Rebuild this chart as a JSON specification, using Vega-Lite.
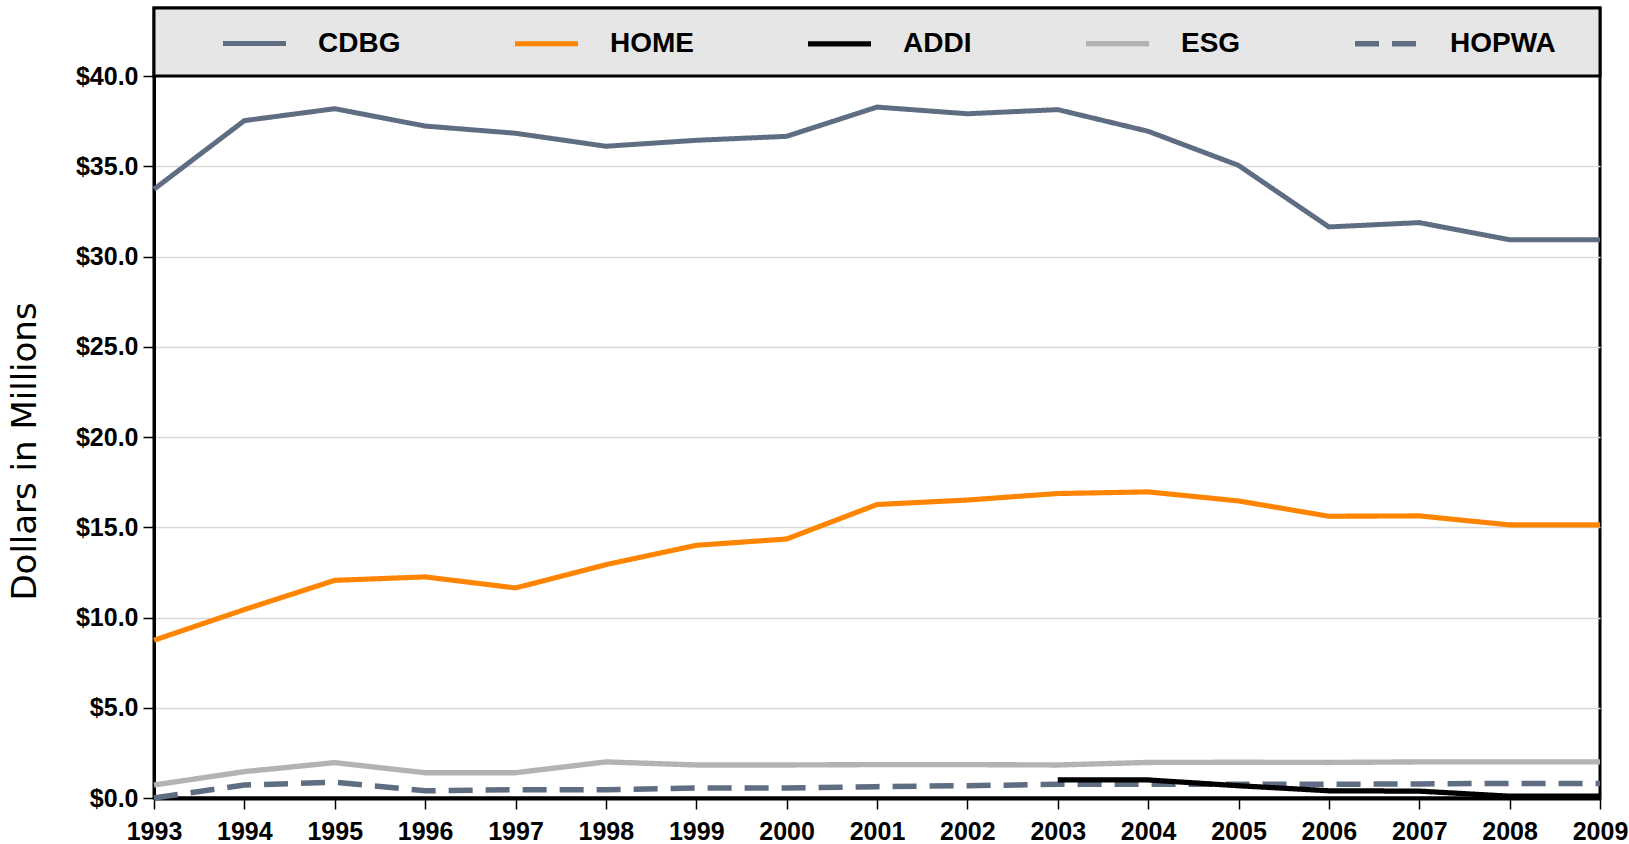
{
  "$schema": "https://vega.github.io/schema/vega-lite/v6.json",
  "autosize": {"type": "none"},
  "width": 1446,
  "height": 790,
  "padding": {"left": 154, "top": 8, "right": 29, "bottom": 46},
  "background": "white",
  "config": {
    "view": {"stroke": "black", "strokeWidth": 3},
    "font": "Liberation Sans"
  },
  "datasets": {
    "funding": [
      {"year": 1993, "series": "CDBG", "value": 33.73},
      {"year": 1994, "series": "CDBG", "value": 37.53},
      {"year": 1995, "series": "CDBG", "value": 38.19},
      {"year": 1996, "series": "CDBG", "value": 37.23},
      {"year": 1997, "series": "CDBG", "value": 36.83},
      {"year": 1998, "series": "CDBG", "value": 36.11},
      {"year": 1999, "series": "CDBG", "value": 36.44},
      {"year": 2000, "series": "CDBG", "value": 36.66},
      {"year": 2001, "series": "CDBG", "value": 38.28},
      {"year": 2002, "series": "CDBG", "value": 37.91},
      {"year": 2003, "series": "CDBG", "value": 38.14},
      {"year": 2004, "series": "CDBG", "value": 36.94},
      {"year": 2005, "series": "CDBG", "value": 35.05},
      {"year": 2006, "series": "CDBG", "value": 31.64},
      {"year": 2007, "series": "CDBG", "value": 31.88},
      {"year": 2008, "series": "CDBG", "value": 30.93},
      {"year": 2009, "series": "CDBG", "value": 30.93},
      {"year": 1993, "series": "HOME", "value": 8.74},
      {"year": 1994, "series": "HOME", "value": 10.44},
      {"year": 1995, "series": "HOME", "value": 12.06},
      {"year": 1996, "series": "HOME", "value": 12.25},
      {"year": 1997, "series": "HOME", "value": 11.64},
      {"year": 1998, "series": "HOME", "value": 12.93},
      {"year": 1999, "series": "HOME", "value": 14.0},
      {"year": 2000, "series": "HOME", "value": 14.35},
      {"year": 2001, "series": "HOME", "value": 16.26},
      {"year": 2002, "series": "HOME", "value": 16.51},
      {"year": 2003, "series": "HOME", "value": 16.87},
      {"year": 2004, "series": "HOME", "value": 16.96},
      {"year": 2005, "series": "HOME", "value": 16.46},
      {"year": 2006, "series": "HOME", "value": 15.61},
      {"year": 2007, "series": "HOME", "value": 15.63},
      {"year": 2008, "series": "HOME", "value": 15.13},
      {"year": 2009, "series": "HOME", "value": 15.13},
      {"year": 1993, "series": "ESG", "value": 0.72},
      {"year": 1994, "series": "ESG", "value": 1.46},
      {"year": 1995, "series": "ESG", "value": 1.96},
      {"year": 1996, "series": "ESG", "value": 1.4},
      {"year": 1997, "series": "ESG", "value": 1.4},
      {"year": 1998, "series": "ESG", "value": 2.0},
      {"year": 1999, "series": "ESG", "value": 1.83},
      {"year": 2000, "series": "ESG", "value": 1.83},
      {"year": 2001, "series": "ESG", "value": 1.85},
      {"year": 2002, "series": "ESG", "value": 1.85},
      {"year": 2003, "series": "ESG", "value": 1.83},
      {"year": 2004, "series": "ESG", "value": 1.97},
      {"year": 2005, "series": "ESG", "value": 1.98},
      {"year": 2006, "series": "ESG", "value": 1.97},
      {"year": 2007, "series": "ESG", "value": 2.0},
      {"year": 2008, "series": "ESG", "value": 2.0},
      {"year": 2009, "series": "ESG", "value": 2.0},
      {"year": 1993, "series": "HOPWA", "value": 0.0},
      {"year": 1994, "series": "HOPWA", "value": 0.72},
      {"year": 1995, "series": "HOPWA", "value": 0.87},
      {"year": 1996, "series": "HOPWA", "value": 0.4},
      {"year": 1997, "series": "HOPWA", "value": 0.46},
      {"year": 1998, "series": "HOPWA", "value": 0.46},
      {"year": 1999, "series": "HOPWA", "value": 0.55},
      {"year": 2000, "series": "HOPWA", "value": 0.55},
      {"year": 2001, "series": "HOPWA", "value": 0.63},
      {"year": 2002, "series": "HOPWA", "value": 0.68},
      {"year": 2003, "series": "HOPWA", "value": 0.76},
      {"year": 2004, "series": "HOPWA", "value": 0.76},
      {"year": 2005, "series": "HOPWA", "value": 0.76},
      {"year": 2006, "series": "HOPWA", "value": 0.76},
      {"year": 2007, "series": "HOPWA", "value": 0.78},
      {"year": 2008, "series": "HOPWA", "value": 0.81},
      {"year": 2009, "series": "HOPWA", "value": 0.81},
      {"year": 2003, "series": "ADDI", "value": 1.0},
      {"year": 2004, "series": "ADDI", "value": 1.0},
      {"year": 2005, "series": "ADDI", "value": 0.68},
      {"year": 2006, "series": "ADDI", "value": 0.4},
      {"year": 2007, "series": "ADDI", "value": 0.38},
      {"year": 2008, "series": "ADDI", "value": 0.1},
      {"year": 2009, "series": "ADDI", "value": 0.1}
    ],
    "legendbox": [
      {"from": 1993, "to": 2009, "bottom": 40, "top": 43.77}
    ]
  },
  "layer": [
    {
      "data": {"name": "legendbox"},
      "mark": {"type": "rect", "fill": "#e6e6e6", "stroke": "black", "strokeWidth": 3},
      "encoding": {
        "x": {"field": "from", "type": "quantitative"},
        "x2": {"field": "to"},
        "y": {"field": "bottom", "type": "quantitative"},
        "y2": {"field": "top"}
      }
    },
    {
      "data": {"name": "funding"},
      "mark": {"type": "line", "strokeJoin": "miter", "strokeCap": "butt", "clip": false},
      "encoding": {
        "x": {
          "field": "year",
          "type": "quantitative",
          "scale": {"domain": [1993, 2009], "nice": false, "zero": false},
          "axis": {
            "values": [1993, 1994, 1995, 1996, 1997, 1998, 1999, 2000, 2001, 2002, 2003, 2004, 2005, 2006, 2007, 2008, 2009],
            "format": "d",
            "title": null,
            "grid": false,
            "domainColor": "black",
            "domainWidth": 4,
            "tickColor": "black",
            "tickWidth": 1.5,
            "tickSize": 11,
            "labelFont": "Liberation Sans",
            "labelFontWeight": "bold",
            "labelFontSize": 25,
            "labelColor": "black",
            "labelPadding": 10,
            "labelOverlap": false,
            "labelFlush": false
          }
        },
        "y": {
          "field": "value",
          "type": "quantitative",
          "scale": {"domain": [0, 43.77], "nice": false, "zero": true},
          "axis": {
            "values": [0, 5, 10, 15, 20, 25, 30, 35, 40],
            "format": "$.1f",
            "title": "Dollars in Millions",
            "titleFont": "DejaVu Sans",
            "titleFontWeight": "normal",
            "titleFontSize": 34,
            "titleColor": "black",
            "titleX": -119,
            "titleY": 443,
            "titleBaseline": "alphabetic",
            "titleAngle": -90,
            "titleAlign": "center",
            "grid": true,
            "gridColor": "#d9d9d9",
            "gridWidth": 1.5,
            "domainColor": "black",
            "domainWidth": 3,
            "tickColor": "black",
            "tickWidth": 1.5,
            "tickSize": 11,
            "labelFont": "Liberation Sans",
            "labelFontWeight": "bold",
            "labelFontSize": 25,
            "labelColor": "black",
            "labelPadding": 5
          }
        },
        "color": {
          "field": "series",
          "type": "nominal",
          "scale": {
            "domain": ["CDBG", "HOME", "ADDI", "ESG", "HOPWA"],
            "range": ["#5e6d82", "#ff8400", "#000000", "#b3b3b3", "#5e6d82"]
          },
          "legend": {
            "title": null,
            "orient": "none",
            "legendX": 66,
            "legendY": 1,
            "direction": "horizontal",
            "columns": 5,
            "columnPadding": 103,
            "padding": 0,
            "symbolType": "stroke",
            "symbolSize": 3969,
            "symbolStrokeWidth": 5,
            "labelFont": "Liberation Sans",
            "labelFontWeight": "bold",
            "labelFontSize": 28,
            "labelColor": "black",
            "labelOffset": 29,
            "labelLimit": 300
          }
        },
        "strokeDash": {
          "field": "series",
          "type": "nominal",
          "scale": {
            "domain": ["CDBG", "HOME", "ADDI", "ESG", "HOPWA"],
            "range": [[1, 0], [1, 0], [1, 0], [1, 0], [24, 13]]
          }
        },
        "strokeWidth": {
          "field": "series",
          "type": "nominal",
          "scale": {
            "domain": ["CDBG", "HOME", "ADDI", "ESG", "HOPWA"],
            "range": [5, 5.5, 3, 5.5, 5.5]
          },
          "legend": null
        },
        "order": {"field": "year", "type": "quantitative"}
      }
    }
  ]
}
